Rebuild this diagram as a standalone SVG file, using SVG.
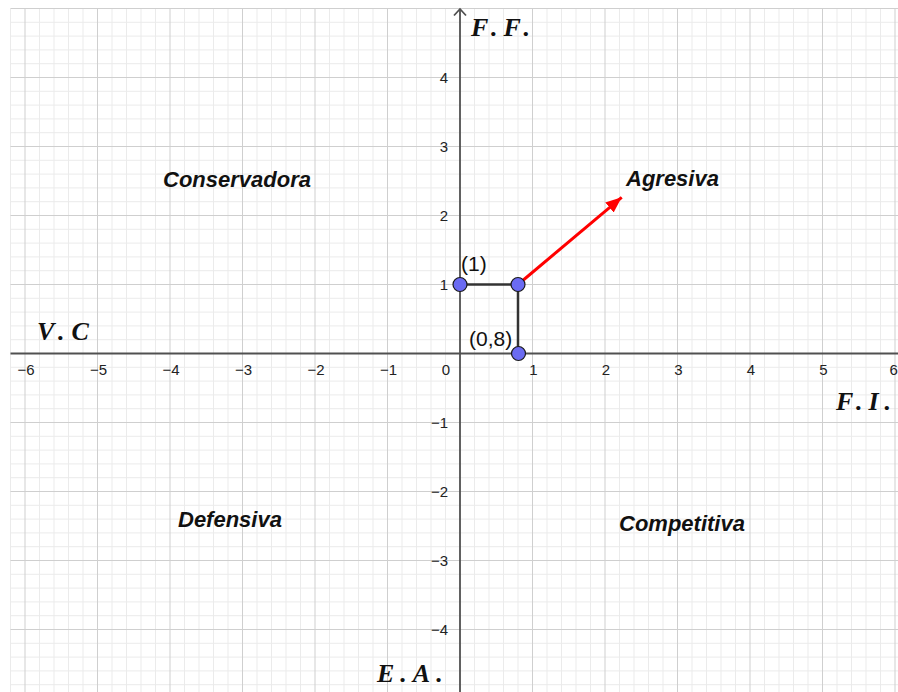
<svg xmlns="http://www.w3.org/2000/svg" width="898" height="692" viewBox="0 0 898 692">
<style>
.minor{stroke:#ebebeb;stroke-width:1;fill:none}
.major{stroke:#cfcfcf;stroke-width:1;fill:none}
.axis{stroke:#505050;stroke-width:1.8;fill:none}
.tick{font-family:"Liberation Sans",Arial,sans-serif;font-size:15px;fill:#222}
.tx{text-anchor:middle}
.ty{text-anchor:end}
.quad{font-family:"Liberation Sans",Arial,sans-serif;font-size:22px;font-weight:bold;font-style:italic;fill:#111}
.ax{font-family:"Liberation Serif","Times New Roman",serif;font-size:26px;font-weight:bold;font-style:italic;fill:#111;letter-spacing:6px}
.pt{fill:#6b6bf2;stroke:#1a1a1a;stroke-width:1.2}
.seg{stroke:#333;stroke-width:2.5;fill:none}
.lbl{font-family:"Liberation Sans",Arial,sans-serif;font-size:21px;fill:#111}
</style>
<defs>
<marker id="ah" markerUnits="userSpaceOnUse" markerWidth="18" markerHeight="14" refX="16" refY="6.5" orient="auto"><path d="M0 0L16 6.5L0 13Z" fill="#ff0000"/></marker>
</defs>
<rect x="0" y="0" width="898" height="692" fill="#fff"/>
<g id="grid">
<path class="minor" d="M10.5 8.5V692M39.5 8.5V692M54 8.5V692M68.5 8.5V692M83 8.5V692M112 8.5V692M126.5 8.5V692M141 8.5V692M155.5 8.5V692M184.5 8.5V692M199 8.5V692M213.5 8.5V692M228 8.5V692M257 8.5V692M271.5 8.5V692M286 8.5V692M300.5 8.5V692M329.5 8.5V692M344 8.5V692M358.5 8.5V692M373 8.5V692M402 8.5V692M416.5 8.5V692M431 8.5V692M445.5 8.5V692M474.5 8.5V692M489 8.5V692M503.5 8.5V692M518 8.5V692M547 8.5V692M561.5 8.5V692M576 8.5V692M590.5 8.5V692M619.5 8.5V692M634 8.5V692M648.5 8.5V692M663 8.5V692M692 8.5V692M706.5 8.5V692M721 8.5V692M735.5 8.5V692M764.5 8.5V692M779 8.5V692M793.5 8.5V692M808 8.5V692M837 8.5V692M851.5 8.5V692M866 8.5V692M880.5 8.5V692"/>
<path class="minor" d="M10.5 22.3H898M10.5 36.1H898M10.5 49.9H898M10.5 63.7H898M10.5 91.3H898M10.5 105.1H898M10.5 118.9H898M10.5 132.7H898M10.5 160.3H898M10.5 174.1H898M10.5 187.9H898M10.5 201.7H898M10.5 229.3H898M10.5 243.1H898M10.5 256.9H898M10.5 270.7H898M10.5 298.3H898M10.5 312.1H898M10.5 325.9H898M10.5 339.7H898M10.5 367.3H898M10.5 381.1H898M10.5 394.9H898M10.5 408.7H898M10.5 436.3H898M10.5 450.1H898M10.5 463.9H898M10.5 477.7H898M10.5 505.3H898M10.5 519.1H898M10.5 532.9H898M10.5 546.7H898M10.5 574.3H898M10.5 588.1H898M10.5 601.9H898M10.5 615.7H898M10.5 643.3H898M10.5 657.1H898M10.5 670.9H898M10.5 684.7H898"/>
<path class="major" d="M25 8.5V692M97.5 8.5V692M170 8.5V692M242.5 8.5V692M315 8.5V692M387.5 8.5V692M532.5 8.5V692M605 8.5V692M677.5 8.5V692M750 8.5V692M822.5 8.5V692M895 8.5V692"/>
<path class="major" d="M10.5 8.5H898M10.5 77.5H898M10.5 146.5H898M10.5 215.5H898M10.5 284.5H898M10.5 422.5H898M10.5 491.5H898M10.5 560.5H898M10.5 629.5H898"/>
</g>
<g id="axes">
<path class="axis" d="M10.5 353.5H898"/>
<path class="axis" d="M460 692V9"/>
<path class="axis" d="M454 15.5L460 9L466 15.5"/>
</g>
<g id="ticks-x">
<text class="tick tx" x="26" y="375">−6</text>
<text class="tick tx" x="98.5" y="375">−5</text>
<text class="tick tx" x="171" y="375">−4</text>
<text class="tick tx" x="243.5" y="375">−3</text>
<text class="tick tx" x="316" y="375">−2</text>
<text class="tick tx" x="388.5" y="375">−1</text>
<text class="tick tx" x="446" y="375">0</text>
<text class="tick tx" x="533.5" y="375">1</text>
<text class="tick tx" x="606" y="375">2</text>
<text class="tick tx" x="678.5" y="375">3</text>
<text class="tick tx" x="751" y="375">4</text>
<text class="tick tx" x="823.5" y="375">5</text>
<text class="tick" x="889.5" y="375">6</text>
</g>
<g id="ticks-y">
<text class="tick ty" x="448" y="82.5">4</text>
<text class="tick ty" x="448" y="151.5">3</text>
<text class="tick ty" x="448" y="220.5">2</text>
<text class="tick ty" x="448" y="289.5">1</text>
<text class="tick ty" x="448" y="427.5">−1</text>
<text class="tick ty" x="448" y="496.5">−2</text>
<text class="tick ty" x="448" y="565.5">−3</text>
<text class="tick ty" x="448" y="634.5">−4</text>
</g>
<g id="axis-labels">
<text id="lbl-ff" class="ax" x="471" y="36">F.F.</text>
<text id="lbl-vc" class="ax" x="37" y="340" style="letter-spacing:7px">V.C</text>
<text id="lbl-fi" class="ax" x="836" y="410">F.I.</text>
<text id="lbl-ea" class="ax" x="377" y="682">E.A.</text>
</g>
<g id="quadrants">
<text id="q-conservadora" class="quad" x="163" y="187">Conservadora</text>
<text id="q-agresiva" class="quad" x="626" y="186">Agresiva</text>
<text id="q-defensiva" class="quad" x="178" y="527">Defensiva</text>
<text id="q-competitiva" class="quad" x="619" y="531">Competitiva</text>
</g>
<g id="connectors">
<path class="seg" d="M460 284.5H518"/>
<path class="seg" d="M518 284.5V353.5"/>
<path d="M518 284.5L621.7 197.3" stroke="#ff0000" stroke-width="3" fill="none" marker-end="url(#ah)"/>
</g>
<g id="node-A">
<circle class="pt" cx="460" cy="284.5" r="7"/>
<text class="lbl" x="461" y="271">(1)</text>
</g>
<g id="node-B">
<circle class="pt" cx="518" cy="284.5" r="7"/>
</g>
<g id="node-C">
<circle class="pt" cx="518.5" cy="353.5" r="7"/>
<text class="lbl" x="469" y="346">(0,8)</text>
</g>
</svg>
